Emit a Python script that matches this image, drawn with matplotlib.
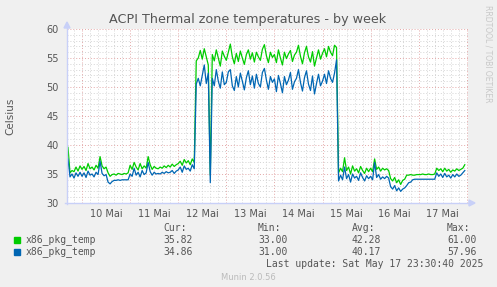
import numpy as np
import matplotlib
matplotlib.use("Agg")
import matplotlib.pyplot as plt
from matplotlib.patches import Rectangle, Polygon

# hours relative to 10 Mai 00:00, one sample per hour
hours = np.arange(-7, 192)

green_vals = (
    [39.6, 35.2, 35.6, 35.4, 36.2, 35.5, 36.4]
    # 10 Mai
    + [35.8, 36.3, 35.6, 36.8, 35.9, 36.2, 35.7, 36.5, 36.0, 38.0, 36.4, 35.9,
       36.2, 35.2, 34.6, 34.9, 35.0, 34.8, 35.1, 35.0, 34.9, 35.1, 35.0, 35.2]
    # 11 Mai
    + [36.5, 35.8, 37.0, 36.2, 35.7, 36.8, 35.9, 36.4, 36.0, 38.0, 36.6, 35.8,
       36.3, 36.0, 35.9, 36.2, 36.0, 36.4, 36.1, 36.5, 36.2, 36.7, 36.3, 36.6]
    # 12 Mai
    + [36.8, 37.2, 36.5, 37.5, 36.9, 37.3, 36.6, 37.6, 37.0, 54.5, 55.0, 56.3,
       54.8, 56.6, 55.2, 53.8, 34.8, 55.6, 54.5, 56.4, 55.0, 53.6, 56.2, 55.3]
    # 13 Mai
    + [54.6, 56.0, 57.4, 55.2, 54.0, 55.8, 54.4, 56.2, 55.0, 53.9, 55.6, 56.4,
       54.8, 55.9, 54.3, 56.0, 55.2, 54.6, 56.5, 57.3, 55.4, 54.2, 56.0, 55.1]
    # 14 Mai
    + [55.6, 54.2, 56.4, 55.0, 53.8, 56.0, 54.9, 55.7, 56.3, 54.4, 55.5, 56.0,
       57.2, 55.3, 54.0, 55.9, 57.0, 55.2, 54.3, 56.1, 53.6, 55.0, 56.4, 54.8]
    # 15 Mai
    + [55.8, 56.6, 55.2, 57.0, 56.0, 55.4, 57.2, 56.8, 35.2, 36.0, 35.4, 37.8,
       35.6, 36.2, 35.0, 36.4, 35.5, 35.9, 35.2, 36.3, 35.6, 35.1, 36.0, 35.4]
    # 16 Mai
    + [36.0, 35.4, 37.6, 35.8, 36.2, 35.5, 36.0, 35.7, 35.9, 35.6, 34.2, 33.8,
       34.4, 33.5, 34.0, 33.2, 33.9, 34.1, 34.8, 34.8, 34.9, 34.8, 34.8, 34.9]
    # 17 Mai
    + [34.9, 34.9, 35.0, 34.9, 34.9, 35.0, 34.9, 34.9, 35.0, 36.0, 35.6, 35.9,
       35.4, 36.0, 35.5, 35.8, 35.3, 35.7, 35.5, 35.9, 35.6, 35.8, 36.0, 36.6]
)

blue_vals = (
    [37.6, 34.5, 35.0, 34.3, 35.2, 34.6, 35.3]
    + [34.6, 35.2, 34.4, 35.5, 34.8, 35.0, 34.5, 35.3, 34.9, 37.2, 35.1, 34.7,
       34.9, 33.6, 33.3, 33.7, 33.9, 33.9, 34.0, 33.9, 34.0, 34.0, 34.0, 34.0]
    + [35.0, 34.6, 36.0, 34.8, 35.3, 34.5, 35.6, 34.9, 35.2, 37.0, 35.4, 34.8,
       35.3, 35.0, 35.1, 35.0, 35.3, 35.1, 35.4, 35.2, 35.3, 35.6, 35.1, 35.5]
    + [35.7, 36.2, 35.3, 36.4, 35.8, 36.0, 35.5, 36.6, 35.9, 50.5, 51.5, 50.2,
       52.0, 53.8, 50.6, 52.4, 33.5, 51.5, 50.2, 53.0, 51.0, 49.8, 52.6, 50.4]
    + [50.8, 52.6, 53.0, 50.2, 49.4, 51.8, 50.0, 52.4, 51.0, 49.5, 51.6, 52.8,
       50.4, 51.9, 49.8, 52.2, 50.6, 50.0, 52.5, 53.2, 51.2, 49.6, 51.8, 50.8]
    + [51.4, 49.2, 52.0, 50.6, 49.0, 51.8, 50.4, 51.2, 52.5, 49.6, 50.9, 51.5,
       53.0, 50.8, 49.3, 51.6, 52.8, 50.5, 49.4, 51.9, 48.8, 50.6, 52.2, 50.2]
    + [51.0, 52.2, 50.6, 52.8, 51.5, 50.8, 52.4, 54.7, 33.8, 34.8, 34.0, 36.2,
       34.2, 34.9, 33.6, 35.0, 34.3, 34.6, 33.9, 35.2, 34.4, 33.8, 34.7, 34.2]
    + [34.6, 34.0, 37.0, 34.4, 34.9, 34.1, 34.5, 34.2, 34.6, 34.3, 32.8, 32.4,
       33.0, 32.1, 32.6, 32.0, 32.4, 32.6, 33.0, 33.5, 33.6, 34.0, 34.1, 34.1]
    + [34.1, 34.1, 34.1, 34.1, 34.1, 34.1, 34.1, 34.1, 34.1, 35.2, 34.6, 35.0,
       34.4, 35.1, 34.5, 34.8, 34.3, 34.9, 34.5, 35.0, 34.6, 34.8, 35.2, 35.6]
)

day_labels = ["10 Mai", "11 Mai", "12 Mai", "13 Mai", "14 Mai", "15 Mai", "16 Mai", "17 Mai"]
series_names = ["x86_pkg_temp", "x86_pkg_temp"]
series_colors = ["#00CC00", "#0066B3"]
stats_cur = ["35.82", "34.86"]
stats_min = ["33.00", "31.00"]
stats_avg = ["42.28", "40.17"]
stats_max = ["61.00", "57.96"]

W, H = 497, 287
def fx(x):
    return x / W
def fy(y):
    return 1 - y / H

fig = plt.figure(figsize=(W / 100, H / 100), dpi=100, facecolor="#F0F0F0")
ax = fig.add_axes([fx(67), fy(203), (468 - 67) / W, (203 - 29) / H])
ax.set_facecolor("white")

xmin, xmax = -7.5, 192.6
ax.set_xlim(xmin, xmax)
ax.set_ylim(30, 60)

# grid
minor_c, major_c = "#D4D4D4", "#E3A8A8"
dots = (0, (1, 2))
for h in np.arange(-4, xmax, 4):
    if h % 24 != 0:
        ax.axvline(h, color=minor_c, lw=0.7, ls=dots, zorder=1)
for v in range(31, 60):
    if v % 5 != 0:
        ax.axhline(v, color=minor_c, lw=0.7, ls=dots, zorder=1)
for h in np.arange(0, xmax, 24):
    ax.axvline(h, color=major_c, lw=0.7, ls=dots, zorder=1.5)
for v in range(35, 61, 5):
    ax.axhline(v, color=major_c, lw=0.7, ls=dots, zorder=1.5)

ax.plot(hours, green_vals, color=series_colors[0], lw=0.9, zorder=3)
ax.plot(hours, blue_vals, color=series_colors[1], lw=0.9, zorder=4)

for s in ax.spines.values():
    s.set_visible(False)

ax.set_yticks(range(30, 61, 5))
ax.set_xticks(np.arange(12, 192, 24))
ax.set_xticklabels(day_labels)
ax.tick_params(length=0, labelsize=7, labelcolor="#555555", pad=4)
ax.tick_params(axis="y", pad=6)

# munin-style axis arrows
arrow_c = "#C8D0F8"
fig.add_artist(plt.Line2D([fx(67), fx(67)], [fy(204), fy(27)], color=arrow_c, lw=1.0))
fig.add_artist(plt.Line2D([fx(65), fx(470)], [fy(203), fy(203)], color=arrow_c, lw=1.0))
fig.add_artist(Polygon([[fx(64), fy(28)], [fx(70), fy(28)], [fx(67), fy(22)]],
                       closed=True, color=arrow_c))
fig.add_artist(Polygon([[fx(469), fy(200)], [fx(469), fy(206)], [fx(475), fy(203)]],
                       closed=True, color=arrow_c))

fig.text(fx(248), fy(19), "ACPI Thermal zone temperatures - by week",
         ha="center", va="center", fontsize=9.2, color="#555555")
fig.text(fx(10), fy(116), "Celsius", rotation=90, ha="center", va="center",
         fontsize=7.5, color="#555555")
fig.text(fx(488), fy(5), "RRDTOOL / TOBI OETIKER", rotation=270, ha="center", va="top",
         fontsize=5.5, color="#C8C8C8")

mono = dict(family="DejaVu Sans Mono", fontsize=7, color="#555555", va="center")
fig.text(fx(163), fy(228), "Cur:", **mono)
fig.text(fx(258), fy(228), "Min:", **mono)
fig.text(fx(352), fy(228), "Avg:", **mono)
fig.text(fx(447), fy(228), "Max:", **mono)
for i, name in enumerate(series_names):
    yrow = 240 + 12 * i
    fig.add_artist(Rectangle((fx(14), fy(yrow + 3)), 6 / W, 6 / H,
                             color=series_colors[i], transform=fig.transFigure))
    fig.text(fx(26), fy(yrow), name, **mono)
    fig.text(fx(163), fy(yrow), stats_cur[i], **mono)
    fig.text(fx(258), fy(yrow), stats_min[i], **mono)
    fig.text(fx(352), fy(yrow), stats_avg[i], **mono)
    fig.text(fx(447), fy(yrow), stats_max[i], **mono)
fig.text(fx(483), fy(264), "Last update: Sat May 17 23:30:40 2025",
         ha="right", va="center", family="DejaVu Sans Mono", fontsize=7, color="#555555")
fig.text(fx(248), fy(277), "Munin 2.0.56", ha="center", va="center",
         fontsize=6, color="#BBBBBB")

fig.savefig("out.png", dpi=100, facecolor=fig.get_facecolor())
